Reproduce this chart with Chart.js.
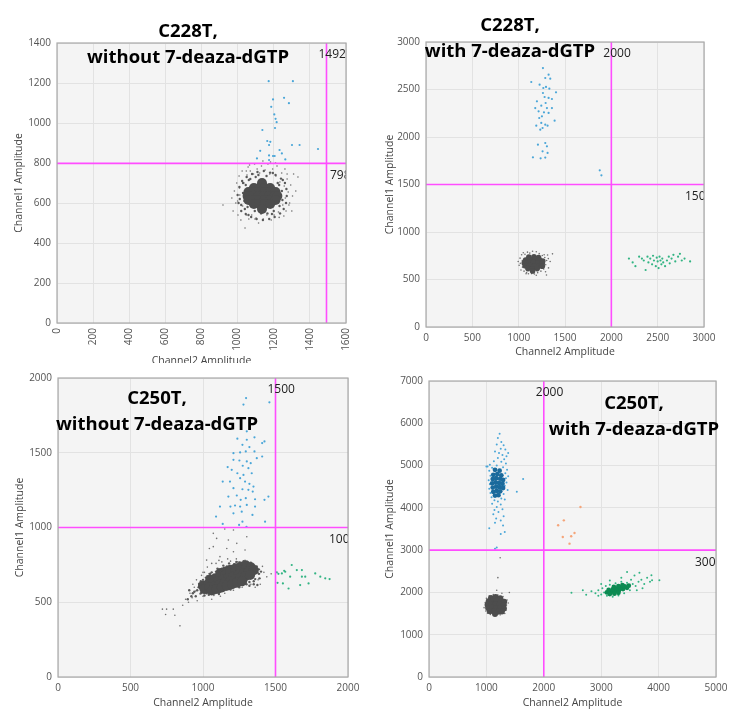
<!DOCTYPE html>
<html><head><meta charset="utf-8">
<script src="https://cdn.jsdelivr.net/npm/chart.js@4"></script>
<style>
html,body{margin:0;padding:0;background:#fff;}
body{width:743px;height:721px;position:relative;overflow:hidden;}
.pane{position:absolute;background:#fff;}
.ttl{position:absolute;width:300px;text-align:center;font-weight:700;font-size:18.5px;line-height:26px;color:#000;font-family:'Open Sans',sans-serif;white-space:nowrap;}
</style></head><body>
<div class="pane" style="left:0;top:0;width:372px;height:372px"><canvas id="c1"></canvas></div>
<div class="pane" style="left:372px;top:0;width:371px;height:362px"><canvas id="c2"></canvas></div>
<div class="pane" style="left:0;top:363px;width:372px;height:358px"><canvas id="c3"></canvas></div>
<div class="pane" style="left:372px;top:363px;width:371px;height:358px"><canvas id="c4"></canvas></div>
<div class="ttl" style="left:38px;top:17px">C228T,<br>without 7-deaza-dGTP</div>
<div class="ttl" style="left:360px;top:11px">C228T,<br>with 7-deaza-dGTP</div>
<div class="ttl" style="left:7px;top:384px">C250T,<br>without 7-deaza-dGTP</div>
<div class="ttl" style="left:484px;top:389px">C250T,<br>with 7-deaza-dGTP</div>
<script>
// ---------- axis ranges / tick steps ----------
const xMaxes = [1600, 3000, 2000, 5000];
const xSteps = [200, 500, 500, 1000];
const yMaxes = [1400, 3000, 2000, 7000];
const ySteps = [200, 500, 500, 1000];
// thresholds [Channel2 (x), Channel1 (y)]
const thresholdX = [1492, 2000, 1500, 2000];
const thresholdY = [798, 1500, 1000, 3000];
const xTitle = 'Channel2 Amplitude';
const yTitle = 'Channel1 Amplitude';

// ---------- Panel 1: C228T without 7-deaza-dGTP ----------
const p1GrayCore = [[1135,700],[1090,675],[1120,675],[1150,675],[1180,675],[1060,655],[1090,655],[1120,655],[1150,655],[1180,655],[1210,655],[1055,635],[1085,635],[1115,635],[1145,635],[1175,635],[1205,635],[1220,635],[1060,615],[1090,615],[1120,615],[1150,615],[1180,615],[1210,615],[1090,595],[1120,595],[1150,595],[1180,595],[1135,570]];
const p1GrayMid = [[1000,640],[1005,600],[1010,680],[1020,560],[1025,710],[1045,545],[1050,730],[1075,530],[1080,745],[1105,520],[1110,755],[1140,515],[1145,760],[1175,520],[1180,752],[1205,530],[1210,740],[1235,548],[1240,722],[1255,570],[1262,700],[1268,600],[1270,670],[1272,635],[1012,620],[1030,700],[1060,540],[1195,750],[1250,715],[1020,590],[1030,650],[1038,610],[1045,690],[1055,580],[1062,715],[1095,560],[1100,730],[1130,548],[1160,735],[1165,548],[1200,560],[1222,700],[1232,585],[1245,660],[1248,615],[1040,570],[1070,720],[1230,690],[1115,740],[1190,545]];
const p1Gray = [[919,590],[968,625],[975,560],[982,660],[990,600],[995,700],[1002,540],[1008,735],[1012,640],[1018,515],[1025,760],[1028,585],[1035,700],[1041,475],[1048,540],[1052,740],[1058,780],[1062,520],[1070,760],[1078,540],[1088,745],[1094,795],[1102,525],[1108,770],[1116,500],[1122,750],[1132,785],[1142,520],[1152,765],[1162,540],[1168,795],[1178,745],[1186,515],[1194,770],[1202,540],[1212,735],[1218,785],[1226,555],[1234,705],[1244,750],[1250,590],[1258,685],[1264,625],[1268,560],[1274,720],[1280,655],[1288,600],[1294,690],[1304,635],[1310,745],[1322,660],[1334,730],[1262,770],[1182,805],[1000,610],[1010,675],[1274,745],[1256,535],[1096,520],[1048,760],[1230,528],[1140,810],[1210,800],[1066,790],[1284,590],[1300,560]];
const p1Blue = [[1172,1209],[1306,1209],[1196,1118],[1257,1126],[1284,1099],[1186,1081],[1203,1043],[1210,1021],[1216,1004],[1207,975],[1137,965],[1164,910],[1181,906],[1174,890],[1301,890],[1343,890],[1445,870],[1125,861],[1232,865],[1245,848],[1107,823],[1174,838],[1196,835],[1205,835],[1264,818],[1174,815]];

// ---------- Panel 2: C228T with 7-deaza-dGTP ----------
const p2GrayCore = [[1110,735],[1165,740],[1215,730],[1075,705],[1125,710],[1175,712],[1225,705],[1260,695],[1060,675],[1110,678],[1160,680],[1210,676],[1255,670],[1070,645],[1120,648],[1170,645],[1220,642],[1255,640],[1100,615],[1150,612],[1200,615],[1150,590]];
const p2Gray = [[995,690],[1005,650],[1015,725],[1025,600],[1032,760],[1042,630],[1050,782],[1058,588],[1068,765],[1085,572],[1095,788],[1105,560],[1120,778],[1140,562],[1150,798],[1170,558],[1190,792],[1205,572],[1222,772],[1240,588],[1255,752],[1270,610],[1282,732],[1292,655],[1302,700],[1312,758],[1322,622],[1340,690],[1365,770],[1290,582],[1018,670],[1300,548],[1040,700],[1275,760],[1190,545],[1080,560],[1320,720]];
const p2Blue = [[1262,2726],[1323,2656],[1287,2621],[1341,2614],[1136,2579],[1226,2551],[1266,2516],[1295,2527],[1331,2509],[1403,2470],[1262,2463],[1280,2421],[1323,2411],[1359,2400],[1197,2376],[1291,2358],[1244,2330],[1179,2305],[1305,2305],[1359,2305],[1215,2270],[1273,2260],[1323,2253],[1251,2218],[1388,2172],[1222,2200],[1244,2148],[1287,2130],[1190,2119],[1312,2119],[1258,2095],[1233,2077],[1208,1919],[1287,1937],[1305,1902],[1258,1849],[1312,1832],[1154,1786],[1237,1776],[1287,1783],[1875,1649],[1893,1597]];
const p2Green = [[2190,720],[2230,680],[2260,640],[2300,740],[2330,720],[2350,700],[2370,600],[2390,740],[2400,680],[2420,720],[2440,660],[2450,750],[2460,700],[2480,640],[2490,730],[2500,690],[2510,620],[2520,740],[2530,700],[2540,660],[2550,720],[2560,680],[2580,640],[2600,700],[2620,740],[2630,670],[2650,720],[2670,760],[2690,690],[2720,740],[2740,770],[2760,700],[2790,720],[2850,690]];

// ---------- Panel 3: C250T without 7-deaza-dGTP ----------
const p3GrayCore = [[1120,696],[1155,706],[1190,717],[1225,727],[1260,738],[1295,748],[1050,650],[1085,661],[1120,671],[1155,682],[1190,692],[1225,703],[1260,713],[1295,724],[1330,734],[1000,610],[1035,621],[1070,631],[1105,642],[1140,652],[1175,663],[1210,673],[1245,684],[1280,694],[1315,705],[1350,715],[1010,588],[1045,599],[1080,609],[1115,620],[1150,630],[1185,641],[1220,651],[1255,662],[1290,672],[1325,683],[1060,578],[1095,589],[1130,599],[1165,610],[1200,620],[1235,631],[1270,641]];
const p3GrayMid = [[960,580],[975,620],[985,560],[1000,650],[1010,545],[1030,675],[1040,550],[1060,700],[1080,560],[1100,725],[1120,570],[1140,745],[1160,585],[1180,760],[1200,595],[1230,770],[1250,600],[1280,775],[1300,620],[1330,765],[1350,640],[1370,740],[1385,690],[1390,660],[1375,615],[950,540],[930,560],[1045,690],[1110,555],[1320,610],[970,600],[985,640],[995,575],[1020,665],[1025,560],[1050,690],[1060,565],[1090,705],[1100,575],[1130,725],[1140,585],[1165,740],[1180,590],[1215,755],[1225,605],[1260,765],[1275,615],[1310,760],[1320,635],[1345,745],[1360,655],[1375,700],[1385,720],[940,570],[920,540],[905,580],[895,520],[1400,705],[1350,620],[1190,585]];
const p3Gray = [[720,454],[749,454],[795,454],[742,418],[806,413],[841,342],[860,480],[880,520],[900,500],[910,560],[925,530],[940,600],[950,575],[960,510],[970,625],[980,555],[990,680],[1000,540],[1010,700],[1020,575],[1030,735],[1040,560],[1060,760],[1075,545],[1090,760],[1110,780],[1130,770],[1150,560],[1170,790],[1190,775],[1210,580],[1230,790],[1250,770],[1270,600],[1290,780],[1310,760],[1330,620],[1350,745],[1370,720],[1380,650],[1390,690],[1395,620],[1360,600],[1420,700],[1440,670],[1410,740],[1470,690],[1071,961],[1175,916],[1233,894],[1210,838],[1164,860],[1071,872],[1210,983],[1094,927],[1302,938],[1025,782],[1117,805],[1044,860],[1290,850],[1150,990],[930,620],[955,650],[1000,700],[1060,520],[1120,540],[1240,770],[1320,760]];
const p3Blue = [[1297,1866],[1458,1837],[1279,1822],[1302,1643],[1237,1594],[1302,1587],[1355,1603],[1424,1576],[1272,1553],[1320,1538],[1408,1565],[1210,1497],[1256,1502],[1295,1509],[1355,1509],[1371,1464],[1408,1475],[1210,1453],[1251,1448],[1302,1442],[1329,1430],[1170,1404],[1198,1386],[1274,1413],[1313,1397],[1237,1363],[1279,1352],[1336,1363],[1136,1307],[1186,1307],[1256,1330],[1290,1307],[1320,1292],[1348,1274],[1210,1263],[1272,1256],[1313,1252],[1343,1240],[1175,1207],[1233,1214],[1260,1185],[1295,1196],[1359,1189],[1451,1207],[1189,1140],[1221,1147],[1256,1140],[1302,1151],[1359,1140],[1117,1140],[1210,1095],[1267,1106],[1341,1084],[1424,1185],[1090,1073],[1136,1024],[1249,1017],[1272,1039],[1428,1039],[1300,1005]];
const p3Green = [[1509,700],[1544,693],[1567,704],[1514,630],[1551,626],[1601,671],[1612,749],[1647,715],[1682,671],[1682,715],[1705,671],[1728,626],[1774,693],[1809,671],[1843,660],[1873,655],[1590,592],[1670,615],[1520,690],[1560,710]];

// ---------- Panel 4: C250T with 7-deaza-dGTP ----------
const p4GrayCore = [[1080,1870],[1160,1890],[1240,1860],[1040,1790],[1110,1800],[1180,1805],[1260,1795],[1310,1780],[1020,1710],[1090,1715],[1160,1720],[1230,1715],[1300,1705],[1030,1630],[1100,1635],[1170,1630],[1240,1625],[1305,1620],[1060,1555],[1130,1550],[1200,1545],[1270,1550],[1150,1490]];
const p4Gray = [[960,1640],[980,1760],[990,1560],[1000,1860],[1020,1510],[1050,1920],[1070,1480],[1120,1950],[1150,1460],[1200,1940],[1240,1470],[1290,1900],[1320,1500],[1350,1700],[1360,1820],[1340,1580],[1380,1750],[1400,2000],[1270,1980],[1200,2350],[1240,2820],[1180,2050],[1030,1830]];
const p4BlueCore = [[1150,4900],[1230,4880],[1120,4780],[1190,4800],[1260,4770],[1110,4680],[1170,4700],[1240,4690],[1290,4660],[1100,4580],[1160,4600],[1220,4590],[1280,4570],[1110,4480],[1170,4500],[1230,4490],[1290,4470],[1120,4380],[1180,4400],[1240,4390],[1150,4290],[1210,4300]];
const p4Blue = [[1230,5750],[1260,5560],[1180,5500],[1300,5480],[1250,5400],[1330,5380],[1150,5330],[1220,5300],[1280,5250],[1350,5220],[1200,5180],[1310,5150],[1130,5100],[1260,5090],[1060,5020],[1340,5050],[1180,5000],[1020,4980],[1100,4950],[1290,4960],[1360,4900],[1050,4880],[1330,4820],[1070,4760],[1380,4750],[1040,4650],[1340,4700],[1060,4560],[1350,4600],[1320,4520],[1050,4450],[1370,4420],[1070,4350],[1300,4330],[1090,4250],[1260,4220],[1140,4180],[1200,4150],[1320,4200],[1100,4100],[1250,4080],[1180,4020],[1140,3950],[1280,3970],[1210,3900],[1120,3850],[1300,3800],[1170,3750],[1250,3700],[1150,3650],[1290,3580],[1050,3520],[1250,3380],[1320,3430],[1180,3060],[1150,3030],[1640,4680],[1530,4380],[1000,4980],[1380,5300],[1200,5650]];
const p4Orange = [[2639,4020],[2349,3705],[2250,3587],[2331,3311],[2477,3327],[2535,3406],[2448,3153]];
const p4GreenCore = [[3100,2000],[3170,2010],[3240,2030],[3310,2050],[3380,2080],[3450,2110],[3130,2060],[3200,2070],[3270,2090],[3340,2110],[3410,2140],[3480,2160],[3220,2130],[3300,2150],[3370,2170],[3150,1960],[3230,1970],[3300,1990]];
const p4Green = [[2482,1994],[2680,2050],[2830,2026],[2738,1947],[2900,1980],[2950,2050],[3000,1950],[3020,2100],[3050,2000],[3080,2150],[3100,1920],[3150,2180],[3200,1900],[3250,2220],[3300,1930],[3350,2250],[3400,1980],[3450,2230],[3500,2050],[3550,2200],[3600,2150],[3650,2250],[3700,2300],[3750,2200],[3800,2350],[3886,2286],[4014,2286],[3451,2483],[3666,2467],[3875,2404],[3580,2400],[3520,2300],[3720,2100],[3850,2250],[3150,2280],[3000,2200],[2950,1920],[3350,2350],[3620,2050]];

// ---------- colours ----------
const C = {gray:'#4d4d4d', grayMid:'#5a5a5a', grayLight:'#707070', blue:'#4aa6d8', blueDark:'#1a6a9c', green:'#32b483', greenDark:'#0d8a52', orange:'#f5a57a', thr:'#ff4dff'};

function pts(a){ return a.map(p => ({x:p[0], y:p[1]})); }
function ds(a, color, r){ return {data: pts(a), backgroundColor: color, pointRadius: r, pointBorderWidth: 0, pointHoverRadius: r}; }

const panelPlugin = {
  id: 'panel',
  beforeDraw(c){
    const a = c.chartArea, x = c.ctx;
    x.save(); x.fillStyle = '#f4f4f4';
    x.fillRect(a.left, a.top, a.right - a.left, a.bottom - a.top); x.restore();
  },
  afterDatasetsDraw(c){
    const o = c.options.plugins.panel, a = c.chartArea, x = c.ctx;
    const px = c.scales.x.getPixelForValue(o.tx), py = c.scales.y.getPixelForValue(o.ty);
    x.save();
    x.strokeStyle = C.thr; x.lineWidth = 1.6;
    x.beginPath(); x.moveTo(px, a.top); x.lineTo(px, a.bottom); x.stroke();
    x.beginPath(); x.moveTo(a.left, py); x.lineTo(a.right, py); x.stroke();
    x.beginPath(); x.rect(a.left, a.top, a.right - a.left, a.bottom - a.top); x.clip();
    x.fillStyle = '#222'; x.font = '12px "Open Sans", sans-serif'; x.textBaseline = 'middle'; x.textAlign = 'left';
    x.fillText(String(o.tx), px - 8, a.top + 12);
    x.fillText(String(o.ty), a.right - o.hOff, py + 12);
    x.restore();
    x.save(); x.strokeStyle = '#a9a9a9'; x.lineWidth = 1.2;
    x.strokeRect(a.left, a.top, a.right - a.left, a.bottom - a.top); x.restore();
  }
};

function make(id, i, W, H, area, datasets, rot, titlePads, hOff){
  const tickFont = {family:'"Open Sans", sans-serif', size:10};
  const titleFont = {family:'"Open Sans", sans-serif', size:10.5};
  new Chart(document.getElementById(id), {
    type: 'scatter',
    data: {datasets},
    options: {
      responsive: true, maintainAspectRatio: false, animation: false, events: [],
      layout: {padding: {top: area.top, right: W - area.right, left: 0, bottom: 0}},
      plugins: {legend:{display:false}, tooltip:{enabled:false},
        panel: {tx: thresholdX[i], ty: thresholdY[i], hOff: hOff}},
      scales: {
        x: {type:'linear', min:0, max:xMaxes[i],
          afterFit: s => { s.height = H - area.bottom; },
          ticks: {stepSize: xSteps[i], color:'#555', font: tickFont, padding: 5, autoSkip:false,
                  minRotation: rot, maxRotation: rot, callback: v => String(v)},
          grid: {color:'#e2e2e2', drawTicks:false}, border: {display:false},
          title: {display:true, text:xTitle, color:'#444', font:titleFont, padding:{top:0, bottom:titlePads[0]}}},
        y: {type:'linear', min:0, max:yMaxes[i],
          afterFit: s => { s.width = area.left; },
          ticks: {stepSize: ySteps[i], color:'#555', font: tickFont, padding: 6, callback: v => String(v)},
          grid: {color:'#e2e2e2', drawTicks:false}, border: {display:false},
          title: {display:true, text:yTitle, color:'#444', font:titleFont, padding:{top:titlePads[1], bottom:0}}}
      }
    },
    plugins: [panelPlugin]
  });
}

make('c1', 0, 372, 372, {left:57, top:43, right:346, bottom:323}, [
  ds(p1Blue, C.blue, 1.1), ds(p1GrayCore, C.gray, 5), ds(p1GrayMid, C.grayMid, 1.2), ds(p1Gray, C.grayLight, 0.8)
], 90, [5, 12.5], 16);

make('c2', 1, 371, 362, {left:54, top:42, right:332, bottom:327}, [
  ds(p2Blue, C.blue, 1.1), ds(p2Green, C.green, 1.1), ds(p2GrayCore, C.gray, 2.8), ds(p2Gray, C.grayLight, 0.8)
], 0, [3.5, 11.5], 19);

make('c3', 2, 372, 358, {left:58, top:15, right:348, bottom:314}, [
  ds(p3Blue, C.blue, 1.1), ds(p3Green, C.green, 1.1), ds(p3GrayCore, C.gray, 5), ds(p3GrayMid, C.grayMid, 1.2), ds(p3Gray, C.grayLight, 0.8)
], 0, [11.5, 13.5], 19);

make('c4', 3, 371, 358, {left:57, top:18, right:344, bottom:314}, [
  ds(p4BlueCore, C.blueDark, 2.4), ds(p4Blue, C.blue, 1), ds(p4Orange, C.orange, 1.2),
  ds(p4GreenCore, C.greenDark, 2.4), ds(p4Green, C.green, 1), ds(p4GrayCore, C.gray, 3), ds(p4Gray, C.grayLight, 0.8)
], 0, [11.5, 11.5], 21);
</script>
</body></html>
